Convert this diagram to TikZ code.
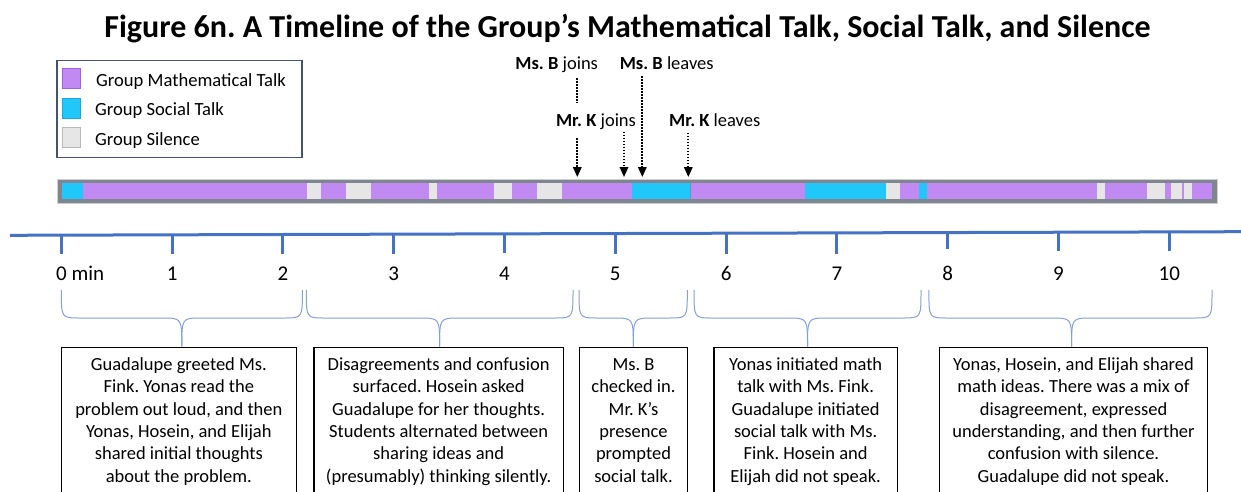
\documentclass[tikz,border=0pt]{standalone}
\usepackage{fontspec}
\setmainfont{Carlito}
\usetikzlibrary{arrows.meta}
\frenchspacing
\definecolor{mathc}{HTML}{C08AF2}
\definecolor{mathb}{HTML}{A15FE2}
\definecolor{socc}{HTML}{22C7FA}
\definecolor{socb}{HTML}{17A9DE}
\definecolor{silc}{HTML}{E6E6E6}
\definecolor{silb}{HTML}{B8B8B8}
\definecolor{barc}{HTML}{7F868F}
\definecolor{legb}{HTML}{44546A}
\definecolor{axisc}{HTML}{4472C4}
\definecolor{bracec}{HTML}{82A0DA}
\tikzset{
  txt/.style={font=\fontsize{18.6}{22}\selectfont, inner sep=0pt},
  ticklab/.style={font=\fontsize{21}{24}\selectfont, inner sep=0pt, anchor=base},
  note/.style={font=\fontsize{18.5}{22}\selectfont, inner sep=0pt, anchor=base},
  sq/.style={minimum width=18pt, minimum height=20pt, inner sep=0pt, line width=1.3pt},
  infobox/.style={draw=black, line width=1.3pt, anchor=north west, align=center,
    inner xsep=0pt, inner ysep=7.7pt, font=\fontsize{18.5}{22.3}\selectfont},
  tickmark/.style={draw=axisc, line width=3pt},
  brc/.style={draw=bracec, line width=1pt},
  dotline/.style={line width=1.8pt, dash pattern=on 1.6pt off 1.4pt},
  dotarrow/.style={dotline, -{Triangle[length=10pt,width=8.5pt]}}
}
\newcommand\tlbrace[3]{%
  \draw[brc] (#1,290) .. controls (#1,318) .. (#1+18,318) -- (#3-20,318)
     .. controls (#3,318) .. (#3,346.7);
  \draw[brc] (#2,290) .. controls (#2,318) .. (#2-18,318) -- (#3+20,318)
     .. controls (#3,318) .. (#3,346.7);
}
\begin{document}
\begin{tikzpicture}[x=1pt,y=-1pt]
\useasboundingbox (0,0) rectangle (1241,492);
\clip (0,0) rectangle (1241,492);

% title
\node[font=\fontsize{32}{34}\selectfont\bfseries, inner sep=0pt, anchor=base] (title) at (627.5,37.5)
  {Figure 6n. A Timeline of the Group’s Mathematical Talk, Social Talk, and Silence};

% legend
\node[draw=legb, line width=1.5pt, minimum width=245pt, minimum height=96.7pt, inner sep=0pt, anchor=north west] (legend) at (56,60) {};
\node[sq, fill=mathc, draw=mathb] (sqm) at (71.7,78.3) {};
\node[sq, fill=socc, draw=socb] (sqs) at (71.7,108.7) {};
\node[sq, fill=silc, draw=silb] (sqq) at (71.7,137.8) {};
\node[txt, anchor=base west] (lm) at (96,86.7) {Group Mathematical Talk};
\node[txt, anchor=base west] (ls) at (95,116) {Group Social Talk};
\node[txt, anchor=base west] (lq) at (95,145.7) {Group Silence};

% timeline bar
\node[fill=barc, draw=barc!40!white, line width=0.6pt, minimum width=1160.3pt, minimum height=24pt, inner sep=0pt, anchor=north west] (bar) at (57,179) {};
\foreach \a/\b/\c in {61.7/83.3/socc, 83.3/307.3/mathc, 307.3/320.7/silc, 320.7/346/mathc,
  346/370.7/silc, 370.7/429/mathc, 429/437.3/silc, 437.3/494/mathc, 494/512.3/silc,
  512.3/537.3/mathc, 537.3/561.7/silc, 561.7/632.3/mathc, 632.3/690/socc, 690/805/mathc,
  805/886/socc, 886/900/silc, 900/918.7/mathc, 918.7/926.7/socc, 926.7/1096.7/mathc,
  1096.7/1105.3/silc, 1105.3/1146.7/mathc, 1146.7/1165.3/silc, 1165.3/1171/mathc,
  1171/1182/silc, 1182/1184/mathc, 1184/1192/silc, 1192/1211.7/mathc}
  \fill[\c] (\a,182.8) rectangle (\b,199);
\draw[barc!80!socc, line width=0.8pt] (690,182.8) -- (690,199);

% annotations
\node[note] (msbj) at (556.7,70) {\textbf{Ms. B} joins};
\node[note] (msbl) at (666.7,70) {\textbf{Ms. B} leaves};
\node[note] (mrkj) at (596,126) {\textbf{Mr. K} joins};
\node[note] (mrkl) at (714.7,126) {\textbf{Mr. K} leaves};
\coordinate (a1s) at (577.3,78.3);
\coordinate (a1m) at (577.3,102.7);
\coordinate (a1r) at (577.3,138.3);
\coordinate (a1e) at (577.3,177);
\coordinate (a2s) at (624,131.7);
\coordinate (a2e) at (624,177);
\coordinate (a3s) at (642.3,76);
\coordinate (a3e) at (642.3,177);
\coordinate (a4s) at (688.3,132.7);
\coordinate (a4e) at (688.3,177);
\draw[dotline] (a1s) -- (a1m);
\draw[dotarrow] (a1r) -- (a1e);
\draw[dotarrow] (a2s) -- (a2e);
\draw[dotarrow] (a3s) -- (a3e);
\draw[dotarrow] (a4s) -- (a4e);

% axis
\coordinate (axL) at (10,235.3);
\coordinate (axR) at (1241,231.7);
\draw[draw=axisc, line width=3pt] (axL) -- (axR);
\foreach \i/\bt in {0/254.3,1/254.3,2/254.3,3/254.3,4/252.7,5/254,6/254.3,7/254.3,8/249.3,9/250.7,10/250.7}{
  \pgfmathsetmacro\xx{61.3+110.8*\i}
  \pgfmathsetmacro\yy{235.3-(\xx-10)*3.6/1231}
  \draw[tickmark] (\xx,\yy) -- (\xx,\bt);
}
\node[ticklab, anchor=base west] (t0) at (56,280) {0 min};
\foreach \i in {1,...,10}{
  \pgfmathsetmacro\xx{61.3+110.8*\i}
  \node[ticklab] (t\i) at (\xx,280) {\i};
}

% boxes
\node[infobox, minimum width=235pt] (box1) at (60.7,346.7)
 {\strut Guadalupe greeted Ms.\\Fink. Yonas read the\\problem out loud, and then\\Yonas, Hosein, and Elijah\\shared initial thoughts\\about the problem.\strut};
\node[infobox, minimum width=249.4pt] (box2) at (313.3,346.7)
 {\strut Disagreements and confusion\\surfaced. Hosein asked\\Guadalupe for her thoughts.\\Students alternated between\\sharing ideas and\\(presumably) thinking silently.\strut};
\node[infobox, minimum width=107.7pt] (box3) at (579,346.7)
 {\strut Ms. B\\checked in.\\Mr. K’s\\presence\\prompted\\social talk.\strut};
\node[infobox, minimum width=183.4pt] (box4) at (713.3,346.7)
 {\strut Yonas initiated math\\talk with Ms. Fink.\\Guadalupe initiated\\social talk with Ms.\\Fink. Hosein and\\Elijah did not speak.\strut};
\node[infobox, minimum width=267.7pt] (box5) at (939,346.7)
 {\strut Yonas, Hosein, and Elijah shared\\math ideas. There was a mix of\\disagreement, expressed\\understanding, and then further\\confusion with silence.\\Guadalupe did not speak.\strut};

% braces
\tlbrace{61.3}{302.4}{181.8}
\tlbrace{306.3}{573}{439.6}
\tlbrace{579}{687.3}{633.3}
\tlbrace{694}{921}{807.5}
\tlbrace{928.9}{1212}{1071.6}
\end{tikzpicture}
\end{document}
